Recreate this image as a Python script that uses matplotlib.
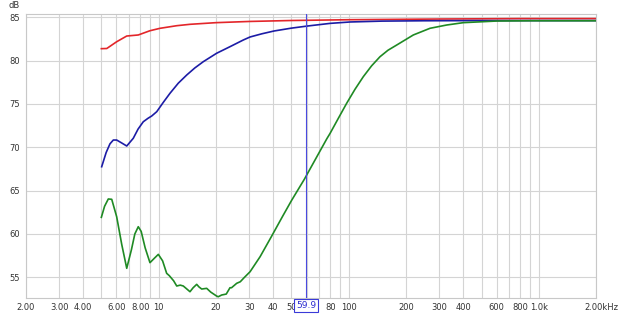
import matplotlib
matplotlib.use("Agg")
import matplotlib.pyplot as plt
import matplotlib.transforms as mtransforms

# red trace
red_f = [5.0, 5.34, 6.02, 6.8, 7.82, 9.01, 10.18, 12.46, 14.63, 20.0, 30.0, 50.0,
         100.0, 300.0, 800.0, 2000.0]
red_db = [81.38, 81.4, 82.18, 82.84, 82.96, 83.45, 83.73, 84.03, 84.19, 84.38, 84.52,
          84.63, 84.72, 84.8, 84.85, 84.85]

# blue trace
blue_f = [5.02, 5.3, 5.55, 5.78, 6.02, 6.4, 6.8, 7.36, 7.8, 8.31, 8.8, 9.2, 9.78,
          10.6, 11.48, 12.7, 14.06, 15.5, 17.19, 20.2, 23.75, 27.9, 30.3, 35.0, 40.5,
          50.0, 61.1, 80.0, 101.7, 150.0, 250.0, 500.0, 1000.0, 2000.0]
blue_db = [67.76, 69.4, 70.4, 70.84, 70.84, 70.5, 70.15, 71.04, 72.1, 72.95, 73.35, 73.61,
           74.11, 75.2, 76.23, 77.4, 78.34, 79.15, 79.88, 80.85, 81.61, 82.38, 82.73,
           83.1, 83.42, 83.75, 84.0, 84.3, 84.46, 84.56, 84.6, 84.62, 84.62, 84.62]

# green trace
green_f = [5.0, 5.2, 5.44, 5.67, 6.02, 6.4, 6.8, 7.2, 7.5, 7.82, 8.1, 8.5, 9.01, 9.5,
           9.97, 10.5, 11.03, 11.39, 12.0, 12.46, 13.0, 13.49, 14.0, 14.63, 15.2, 15.87,
           16.3, 16.86, 17.91, 18.8, 20.2, 20.6, 21.47, 22.7, 23.75, 24.2, 25.76, 26.9,
           28.3, 30.3, 34.2, 39.2, 45.0, 50.0, 58.4, 66.0, 76.8, 79.8, 88.0, 97.6, 108.0,
           119.4, 132.0, 146.1, 161.0, 178.9, 218.8, 267.8, 327.8, 400.8, 600.6, 900.0,
           2000.0]
green_db = [61.92, 63.2, 64.04, 64.0, 61.99, 58.8, 56.04, 58.2, 60.0, 60.84, 60.3, 58.4,
            56.69, 57.2, 57.65, 56.9, 55.46, 55.19, 54.6, 54.0, 54.1, 54.0, 53.7, 53.34,
            53.8, 54.19, 53.9, 53.65, 53.73, 53.3, 52.84, 52.76, 52.96, 53.07, 53.8, 53.8,
            54.31, 54.49, 55.0, 55.65, 57.38, 59.69, 62.07, 63.85, 66.3, 68.4, 71.0, 71.6,
            73.3, 75.08, 76.7, 78.15, 79.4, 80.45, 81.2, 81.8, 82.96, 83.73, 84.11, 84.38,
            84.57, 84.6, 84.6]

grid_f = [2, 3, 4, 5, 6, 7, 8, 9, 10, 20, 30, 40, 50, 60, 70, 80, 90,
          100, 200, 300, 400, 500, 600, 700, 800, 900, 1000, 2000]
grid_labels = ["2.00", "3.00", "4.00", "", "6.00", "", "8.00", "", "10", "20", "30", "40",
               "50", "", "", "80", "", "100", "200", "300", "400", "", "600", "", "800", "",
               "1.0k", "2.00kHz"]
y_ticks = [55, 60, 65, 70, 75, 80, 85]
cursor_f = 59.9

plt.rcParams['font.family'] = ['DejaVu Sans']
fig = plt.figure(figsize=(6.2, 3.14), dpi=100)
ax = fig.add_axes([25.7 / 620, 1 - 297.7 / 314, (596 - 25.7) / 620, (297.7 - 14) / 314])

ax.plot(red_f, red_db, color="#e3262a", lw=1.2, zorder=3)
ax.plot(blue_f, blue_db, color="#1c1ca6", lw=1.2, zorder=4)
ax.plot(green_f, green_db, color="#1f8a24", lw=1.2, zorder=5)

ax.set_xscale("log")
ax.set_xlim(2, 2000)
ax.set_ylim(52.65, 85.38)
ax.minorticks_off()
ax.set_xticks(grid_f)
ax.set_xticklabels(grid_labels)
ax.set_yticks(y_ticks)
ax.tick_params(length=0, labelsize=6, labelcolor="#333333")
ax.tick_params(axis="x", pad=4)
ax.tick_params(axis="y", pad=4)
ax.grid(True, color="#d4d4d4", lw=0.8)
ax.set_axisbelow(True)
for s in ax.spines.values():
    s.set_color("#c8c8c8")
    s.set_linewidth(0.8)

# last label sits a little right of the frame edge
last = ax.get_xticklabels()[-1]
last.set_transform(last.get_transform() + mtransforms.ScaledTranslation(5 / 100, 0, fig.dpi_scale_trans))

fig.text(14 / 620, 1 - 6 / 314, "dB", fontsize=6, color="#333333", ha="center", va="center")

# cursor
ax.axvline(cursor_f, color="#4a4ae0", lw=0.8, zorder=6)
trans = mtransforms.blended_transform_factory(ax.transData, ax.transAxes)
ax.text(cursor_f, -0.01, "59.9", transform=trans, ha="center", va="top", fontsize=6.5,
        color="#2a2ad0", zorder=7,
        bbox=dict(boxstyle="square,pad=0.22", fc="white", ec="#3a3ad8", lw=0.8))

fig.savefig("out.png", dpi=100)
